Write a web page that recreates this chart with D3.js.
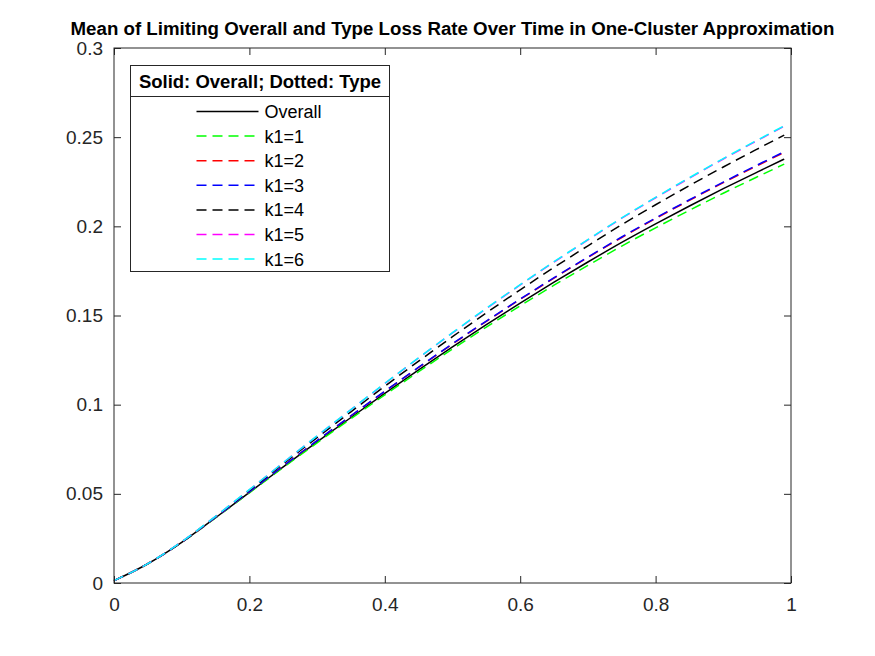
<!DOCTYPE html>
<html>
<head>
<meta charset="utf-8">
<script src="https://cdn.jsdelivr.net/npm/d3@7"></script>
<style>
  body { margin: 0; background: #fff; }
  text { font-family: "Liberation Sans", Arial, sans-serif; }
</style>
</head>
<body>
<script>
/* DATA */
var times = [0, 0.05, 0.1, 0.15, 0.2, 0.25, 0.3, 0.35, 0.4, 0.45, 0.5, 0.55, 0.6, 0.65, 0.7, 0.75, 0.8, 0.85, 0.9, 0.95, 0.99];

var overall = [0.0013, 0.0108, 0.0228, 0.0366, 0.0508, 0.0651, 0.0791, 0.0928, 0.1063, 0.1195, 0.1324, 0.1449, 0.157, 0.1687, 0.18, 0.191, 0.2014, 0.2114, 0.2211, 0.2304, 0.2377];
var k1_1 = [0.0013, 0.01079, 0.02275, 0.03648, 0.05057, 0.06474, 0.07859, 0.09213, 0.10545, 0.11848, 0.13121, 0.14353, 0.15546, 0.16698, 0.17811, 0.18894, 0.19917, 0.20902, 0.21856, 0.22771, 0.23489];
var k1_2 = [0.0013, 0.01081, 0.02286, 0.03676, 0.0511, 0.06558, 0.07978, 0.09369, 0.10743, 0.12086, 0.13399, 0.14673, 0.15906, 0.17099, 0.18252, 0.19375, 0.20437, 0.21458, 0.22448, 0.23398, 0.24144];
var k1_3 = [0.0013, 0.01081, 0.02287, 0.03678, 0.05114, 0.06563, 0.07985, 0.09378, 0.10754, 0.1210, 0.13415, 0.14691, 0.15926, 0.17122, 0.18277, 0.19403, 0.20466, 0.2149, 0.22482, 0.23434, 0.24181];
var k1_4 = [0.0013, 0.01085, 0.02303, 0.03718, 0.0519, 0.06683, 0.08155, 0.09601, 0.11036, 0.1244, 0.13812, 0.15147, 0.1644, 0.17696, 0.18907, 0.2009, 0.21209, 0.22284, 0.23328, 0.24329, 0.25117];
var k1_5 = [0.0013, 0.01086, 0.02311, 0.03739, 0.0523, 0.06747, 0.08245, 0.09719, 0.11185, 0.12621, 0.14022, 0.15389, 0.16713, 0.18, 0.19241, 0.20455, 0.21602, 0.22706, 0.23776, 0.24803, 0.25613];
var k1_6 = [0.0013, 0.01086, 0.02312, 0.03741, 0.05232, 0.06751, 0.0825, 0.09725, 0.11193, 0.12631, 0.14034, 0.15403, 0.16728, 0.18017, 0.1926, 0.20475, 0.21624, 0.2273, 0.23801, 0.2483, 0.25641];

var xTicks = [0, 0.2, 0.4, 0.6, 0.8, 1];
var yTicks = [0, 0.05, 0.1, 0.15, 0.2, 0.25, 0.3];

var series = [
  {name: "Overall", values: overall, color: "#000000", dash: null},
  {name: "k1=1", values: k1_1, color: "#00ff00", dash: "10,6"},
  {name: "k1=2", values: k1_2, color: "#ff0000", dash: "10,6"},
  {name: "k1=3", values: k1_3, color: "#0000ff", dash: "10,6"},
  {name: "k1=4", values: k1_4, color: "#000000", dash: "10,6"},
  {name: "k1=5", values: k1_5, color: "#ff00ff", dash: "10,6"},
  {name: "k1=6", values: k1_6, color: "#00ffff", dash: "10,6"}
];

var W = 875, H = 656;
var margin = {top: 48, right: 84, bottom: 73, left: 114},
    width = W - margin.left - margin.right,
    height = H - margin.top - margin.bottom;

var x = d3.scaleLinear().domain([0, 1]).range([0, width]);
var y = d3.scaleLinear().domain([0, 0.3]).range([height, 0]);

var svg = d3.select("body").append("svg")
    .attr("width", W)
    .attr("height", H);

var g = svg.append("g")
    .attr("transform", "translate(" + margin.left + "," + margin.top + ")");

var axisColor = "#262626";

// lines
var line = d3.line()
    .curve(d3.curveMonotoneX)
    .x(function(d) { return x(d[0]); })
    .y(function(d) { return y(d[1]); });

series.forEach(function(s) {
  g.append("path")
    .datum(times.map(function(t, i) { return [t, s.values[i]]; }))
    .attr("fill", "none")
    .attr("stroke", s.color)
    .attr("stroke-width", 1.5)
    .attr("stroke-dasharray", s.dash)
    .attr("d", line);
});

// axes (ticks inward, box on)
function styleAxis(sel) {
  sel.select(".domain").remove();
  sel.selectAll("line").attr("stroke", axisColor);
  sel.selectAll("text").attr("fill", axisColor).style("font-size", "19px");
}

g.append("g")
    .attr("transform", "translate(0," + height + ")")
    .call(d3.axisBottom(x).tickValues(xTicks).tickSize(-7).tickPadding(15).tickFormat(d3.format("")))
    .call(styleAxis);
g.append("g")
    .call(d3.axisTop(x).tickValues(xTicks).tickSize(-7).tickFormat(""))
    .call(styleAxis);
g.append("g")
    .call(d3.axisLeft(y).tickValues(yTicks).tickSize(-7).tickPadding(11).tickFormat(d3.format("")))
    .call(styleAxis);
g.append("g")
    .attr("transform", "translate(" + width + ",0)")
    .call(d3.axisRight(y).tickValues(yTicks).tickSize(-7).tickFormat(""))
    .call(styleAxis);

g.append("rect")
    .attr("width", width)
    .attr("height", height)
    .attr("fill", "none")
    .attr("stroke", axisColor)
    .attr("stroke-width", 1);

// title
svg.append("text")
    .attr("x", margin.left + width / 2)
    .attr("y", 35)
    .attr("text-anchor", "middle")
    .style("font-size", "18.7px")
    .style("font-weight", "bold")
    .attr("fill", "#000")
    .text("Mean of Limiting Overall and Type Loss Rate Over Time in One-Cluster Approximation");

// legend
var lg = svg.append("g").attr("transform", "translate(130.5,65.5)");
lg.append("rect")
    .attr("width", 259)
    .attr("height", 206)
    .attr("fill", "#fff")
    .attr("stroke", axisColor);
lg.append("line")
    .attr("x1", 0).attr("x2", 259)
    .attr("y1", 31).attr("y2", 31)
    .attr("stroke", axisColor);
lg.append("text")
    .attr("x", 129.5)
    .attr("y", 22.5)
    .attr("text-anchor", "middle")
    .style("font-size", "18.5px")
    .style("font-weight", "bold")
    .attr("fill", "#000")
    .text("Solid: Overall; Dotted: Type");

series.forEach(function(s, i) {
  var yy = 46 + i * 24.6;
  lg.append("line")
    .attr("x1", 66).attr("x2", 128)
    .attr("y1", yy).attr("y2", yy)
    .attr("stroke", s.color)
    .attr("stroke-width", 1.5)
    .attr("stroke-dasharray", s.dash);
  lg.append("text")
    .attr("x", 134)
    .attr("y", yy + 6.5)
    .style("font-size", "18px")
    .attr("fill", "#000")
    .text(s.name);
});
</script>
</body>
</html>
